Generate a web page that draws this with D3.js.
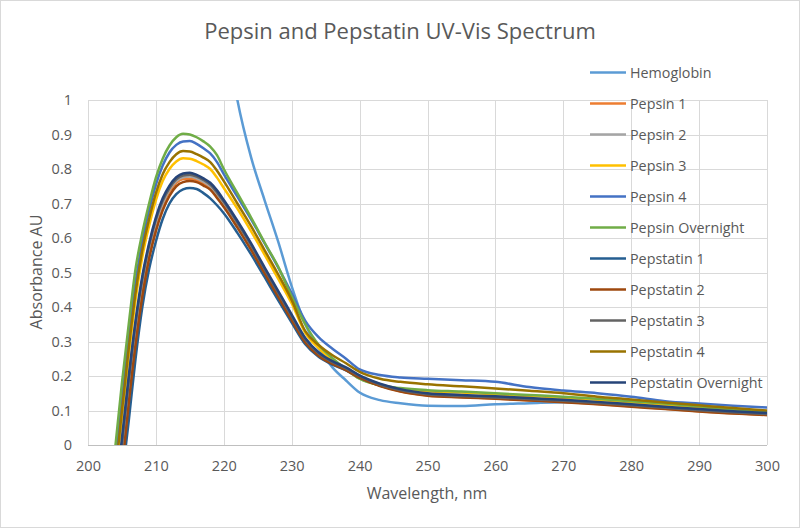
<!DOCTYPE html>
<html><head><meta charset="utf-8">
<script src="https://cdn.jsdelivr.net/npm/d3@7"></script>
<style>body{margin:0;background:#fff}svg{display:block}text{font-family:"Open Sans",sans-serif;fill:#595959}</style>
</head><body><svg id="c" width="800" height="528"></svg>
<script>
const title = "Pepsin and Pepstatin UV-Vis Spectrum";
const xTitle = "Wavelength, nm";
const yTitle = "Absorbance AU";
const xTicks = [200,210,220,230,240,250,260,270,280,290,300];
const yTicks = [0,0.1,0.2,0.3,0.4,0.5,0.6,0.7,0.8,0.9,1];
const wavelengths = [203,204,205,206,207,208,209,210,211,212,213,214,215,216,217,218,219,220,222,224,226,228,230,232,234,236,238,240,243,246,250,255,260,265,270,275,280,285,290,295,300];
const seriesNames = ["Hemoglobin","Pepsin 1","Pepsin 2","Pepsin 3","Pepsin 4","Pepsin Overnight","Pepstatin 1","Pepstatin 2","Pepstatin 3","Pepstatin 4","Pepstatin Overnight"];
const seriesColors = ["#5B9BD5","#ED7D31","#A5A5A5","#FFC000","#4472C4","#70AD47","#255E91","#9E480E","#636363","#997300","#264478"];
const hemoglobin = [null,null,null,null,null,null,null,null,null,null,null,null,null,null,null,1.6,1.4,1.24, 1.0,0.835,0.71,0.59,0.46,0.35,0.28,0.225,0.187,0.152, 0.13,0.121, 0.114,0.113,0.118,0.121,0.124,0.122,0.117,0.11,0.103,0.096,0.091];
const pepsin1 = [-0.42,-0.23,-0.04,0.15,0.32,0.455,0.56,0.638,0.695,0.735,0.76,0.771,0.772,0.768,0.758,0.745,0.722,0.695, 0.635,0.57,0.502,0.434,0.366,0.3,0.26,0.236,0.218,0.196, 0.172,0.156, 0.144,0.139,0.135,0.13,0.125,0.119,0.112,0.105,0.098,0.092,0.087];
const pepsin2 = [-0.4,-0.21,-0.02,0.17,0.335,0.47,0.57,0.645,0.70,0.74,0.765,0.776,0.778,0.773,0.763,0.75,0.727,0.70, 0.64,0.575,0.506,0.438,0.37,0.304,0.264,0.24,0.222,0.2, 0.176,0.16, 0.148,0.143,0.139,0.134,0.129,0.123,0.116,0.109,0.102,0.096,0.091];
const pepsin3 = [-0.3,-0.11,0.08,0.26,0.42,0.545,0.635,0.71,0.765,0.80,0.822,0.831,0.83,0.823,0.813,0.80,0.775,0.745, 0.685,0.62,0.552,0.482,0.41,0.325,0.28,0.246,0.218,0.193, 0.173,0.163, 0.156,0.152,0.147,0.142,0.137,0.131,0.124,0.117,0.109,0.101,0.095];
const pepsin4 = [-0.24,-0.05,0.13,0.31,0.47,0.59,0.68,0.755,0.81,0.848,0.87,0.88,0.881,0.873,0.86,0.845,0.82,0.785, 0.72,0.655,0.585,0.515,0.44,0.36,0.312,0.279,0.25,0.219, 0.203,0.196, 0.192,0.188,0.183,0.168,0.158,0.15,0.14,0.127,0.12,0.114,0.109];
const pepsinOvernight = [-0.2,-0.01,0.18,0.35,0.51,0.615,0.70,0.775,0.83,0.868,0.892,0.902,0.90,0.892,0.88,0.865,0.84,0.80, 0.73,0.66,0.587,0.517,0.43,0.35,0.29,0.252,0.22,0.192, 0.173,0.165, 0.159,0.155,0.150,0.145,0.14,0.134,0.127,0.12,0.112,0.104,0.097];
const pepstatin1 = [-0.49,-0.3,-0.1,0.07,0.25,0.40,0.51,0.59,0.655,0.70,0.727,0.741,0.745,0.742,0.73,0.715,0.695,0.672, 0.615,0.553,0.487,0.42,0.355,0.292,0.255,0.233,0.216,0.195, 0.172,0.157, 0.146,0.141,0.137,0.132,0.127,0.121,0.114,0.107,0.1,0.094,0.089];
const pepstatin2 = [-0.45,-0.26,-0.07,0.12,0.29,0.43,0.54,0.62,0.68,0.722,0.75,0.762,0.765,0.762,0.752,0.74,0.716,0.69, 0.63,0.566,0.498,0.43,0.362,0.297,0.258,0.235,0.217,0.195, 0.171,0.155, 0.143,0.138,0.134,0.129,0.124,0.118,0.111,0.104,0.097,0.091,0.087];
const pepstatin3 = [-0.38,-0.19,0.0,0.185,0.35,0.48,0.578,0.653,0.708,0.745,0.77,0.781,0.783,0.778,0.768,0.755,0.732,0.705, 0.645,0.58,0.51,0.442,0.373,0.306,0.265,0.24,0.222,0.2, 0.175,0.159, 0.147,0.142,0.138,0.133,0.128,0.122,0.115,0.108,0.101,0.095,0.09];
const pepstatin4 = [-0.28,-0.09,0.10,0.28,0.44,0.565,0.655,0.73,0.785,0.82,0.843,0.852,0.851,0.843,0.833,0.82,0.795,0.765, 0.70,0.635,0.565,0.495,0.42,0.33,0.289,0.26,0.237,0.212, 0.192,0.183, 0.176,0.17,0.164,0.157,0.15,0.14,0.132,0.123,0.115,0.107,0.10];
const pepstatinOvernight = [-0.36,-0.17,0.02,0.20,0.36,0.49,0.585,0.66,0.715,0.752,0.776,0.787,0.789,0.783,0.773,0.76,0.738,0.71, 0.65,0.585,0.515,0.447,0.378,0.31,0.268,0.243,0.225,0.202, 0.178,0.162, 0.15,0.145,0.141,0.136,0.131,0.125,0.118,0.111,0.104,0.098,0.093];
const seriesValues = [hemoglobin,pepsin1,pepsin2,pepsin3,pepsin4,pepsinOvernight,pepstatin1,pepstatin2,pepstatin3,pepstatin4,pepstatinOvernight];

const svg = d3.select("#c");
const W = 800, H = 528;
const m = {left:88, right:33, top:100, bottom:83};
const x = d3.scaleLinear().domain([200,300]).range([m.left, W-m.right]);
const y = d3.scaleLinear().domain([0,1]).range([H-m.bottom, m.top]);

svg.append("rect").attr("x",0.5).attr("y",0.5).attr("width",W-1).attr("height",H-1).attr("fill","#fff").attr("stroke","#d9d9d9");

// gridlines
const g = svg.append("g");
g.selectAll(".hg").data(yTicks.filter(d=>d>0)).join("line")
  .attr("x1",x(200)).attr("x2",x(300)).attr("y1",d=>Math.round(y(d))+0.5).attr("y2",d=>Math.round(y(d))+0.5)
  .attr("stroke","#d9d9d9").attr("stroke-width",1);
g.selectAll(".vg").data(xTicks).join("line")
  .attr("y1",y(0)).attr("y2",y(1)).attr("x1",d=>Math.round(x(d))+0.5).attr("x2",d=>Math.round(x(d))+0.5)
  .attr("stroke","#d9d9d9").attr("stroke-width",1);
g.append("line").attr("x1",x(200)).attr("x2",x(300)).attr("y1",Math.round(y(0))+0.5).attr("y2",Math.round(y(0))+0.5).attr("stroke","#bfbfbf").attr("stroke-width",1);

const xAxis = svg.append("g").attr("transform",`translate(0,${y(0)})`)
  .call(d3.axisBottom(x).tickValues(xTicks).tickSize(0).tickPadding(16).tickFormat(d3.format("d")));
const yAxis = svg.append("g").attr("transform",`translate(${x(200)},0)`)
  .call(d3.axisLeft(y).tickValues(yTicks).tickSize(0).tickPadding(16).tickFormat(d=>d===0?"0":d===1?"1":d3.format(".1f")(d)));
[xAxis,yAxis].forEach(a=>{a.select(".domain").remove();a.selectAll("text").attr("font-size",14.5).attr("fill","#595959").attr("font-family","'Open Sans',sans-serif");});

svg.append("clipPath").attr("id","pc").append("rect").attr("x",x(200)).attr("y",y(1)).attr("width",x(300)-x(200)).attr("height",y(0)-y(1));

const line = d3.line().defined(d=>d[1]!==null).x(d=>x(d[0])).y(d=>y(d[1])).curve(d3.curveMonotoneX);
const lines = svg.append("g").attr("clip-path","url(#pc)");
seriesValues.forEach((vals,i)=>{
  const pts = wavelengths.map((w,j)=>[w,vals[j]]);
  lines.append("path").attr("d",line(pts)).attr("fill","none").attr("stroke",seriesColors[i])
    .attr("stroke-width",2.5).attr("stroke-linejoin","round").attr("stroke-linecap","round");
});

const lg = svg.append("g");
seriesNames.forEach((n,i)=>{
  const yy = 72.5 + i*31;
  lg.append("line").attr("x1",590).attr("x2",626).attr("y1",yy).attr("y2",yy).attr("stroke",seriesColors[i]).attr("stroke-width",2.5);
  lg.append("text").attr("x",630).attr("y",yy).attr("dy","0.35em").attr("font-size",14.3).text(n);
});

svg.append("text").attr("x",400).attr("y",39).attr("text-anchor","middle").attr("font-size",22).text(title);
svg.append("text").attr("x",427).attr("y",499).attr("text-anchor","middle").attr("font-size",16).text(xTitle);
svg.append("text").attr("transform","translate(42,272) rotate(-90)").attr("text-anchor","middle").attr("font-size",16).text(yTitle);
</script></body></html>
